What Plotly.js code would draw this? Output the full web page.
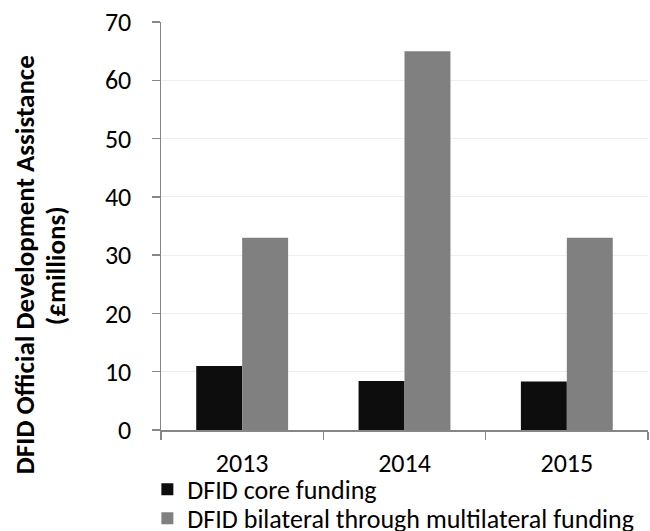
<!DOCTYPE html>
<html>
<head>
<meta charset="utf-8">
<script src="https://cdn.plot.ly/plotly-3.0.1.min.js"></script>
<style>html,body{margin:0;padding:0;background:#fff;}#chart{width:650px;height:531px;}</style>
</head>
<body>
<div id="chart"></div>
<script>
const years = ['2013', '2014', '2015'];
const coreFunding = [11, 8.4, 8.3];
const bilateralFunding = [33, 65, 33];
const seriesNames = ['DFID core funding', 'DFID bilateral through multilateral funding'];
const yTicks = [0, 10, 20, 30, 40, 50, 60, 70];
const yTitleLines = ['DFID Official Development Assistance', '(£millions)'];

const fontFam = 'Carlito, Lato, "Open Sans", sans-serif';

const data = [
  {type: 'bar', name: seriesNames[0], x: years, y: coreFunding, legend: 'legend',
   marker: {color: '#0d0d0d', line: {width: 0}}},
  {type: 'bar', name: seriesNames[1], x: years, y: bilateralFunding, legend: 'legend2',
   marker: {color: '#808080', line: {width: 0}}}
];

const legendBase = {x: -0.028, xanchor: 'left', yanchor: 'top', orientation: 'v',
  font: {size: 26, family: fontFam}, bgcolor: 'rgba(0,0,0,0)'};

const titleAnn = (txt, xp) => ({
  xref: 'paper', yref: 'paper', x: xp, y: 0.404,
  xanchor: 'center', yanchor: 'middle', textangle: -90, showarrow: false,
  text: '<b>' + txt + '</b>',
  font: {size: 27, family: fontFam, color: '#000'}
});

const layout = {
  width: 650, height: 531,
  margin: {l: 161, r: 2, t: 22, b: 101, autoexpand: false},
  paper_bgcolor: '#fff', plot_bgcolor: '#fff',
  font: {family: fontFam, size: 26, color: '#000'},
  barmode: 'group',
  bargap: 0.434,
  bargroupgap: 0,
  showlegend: true,
  legend: Object.assign({}, legendBase, {y: -0.088}),
  legend2: Object.assign({}, legendBase, {y: -0.159}),
  xaxis: {
    type: 'category', automargin: false,
    showline: true, linecolor: '#868686', linewidth: 1.5,
    ticks: 'outside', tickson: 'boundaries', ticklen: 8, tickcolor: '#868686', tickwidth: 1.5,
    showgrid: false, tickfont: {size: 26},
    ticklabelstandoff: 9
  },
  yaxis: {
    range: [0, 70], tickvals: yTicks, ticktext: yTicks.map(String), automargin: false,
    showline: true, linecolor: '#868686', linewidth: 1.5,
    ticks: 'outside', ticklen: 8, tickcolor: '#868686', tickwidth: 1.5,
    showgrid: true, gridcolor: '#eeeeee', gridwidth: 1,
    zeroline: false, tickfont: {size: 26}, ticklabelstandoff: 15
  },
  annotations: [titleAnn(yTitleLines[0], -0.2813), titleAnn(yTitleLines[1], -0.2177)]
};

Plotly.newPlot('chart', data, layout, {displayModeBar: false, staticPlot: true});
</script>
</body>
</html>
